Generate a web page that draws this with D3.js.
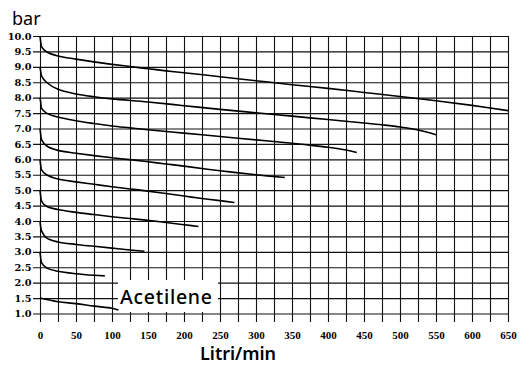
<!DOCTYPE html>
<html>
<head>
<meta charset="utf-8">
<script src="https://cdn.jsdelivr.net/npm/d3@7"></script>
<style>
  body { margin: 0; background: #fff; }
  svg { display: block; }
</style>
</head>
<body>
<svg id="chart" width="520" height="365"></svg>
<script>
// flow (Litri/min) vs outlet pressure (bar), one curve per inlet setting
const curve10 = [[0,10.0],[1,9.8],[2.3,9.65],[9,9.49],[25,9.35],[50,9.25],[75,9.16],[100,9.08],[125,9.01],[150,8.94],[175,8.87],[200,8.81],[250,8.68],[300,8.55],[350,8.42],[400,8.3],[450,8.17],[500,8.04],[550,7.9],[600,7.75],[650,7.58]];
const curve9 = [[0,9.0],[1,8.85],[2.3,8.7],[9,8.5],[25,8.27],[50,8.12],[75,8.03],[100,7.96],[150,7.86],[200,7.74],[250,7.62],[300,7.51],[350,7.4],[400,7.29],[450,7.18],[475,7.12],[500,7.05],[525,6.95],[550,6.8]];
const curve8 = [[0,8.0],[1,7.85],[2.3,7.65],[9,7.5],[25,7.37],[50,7.25],[75,7.16],[100,7.08],[125,7.02],[150,6.96],[200,6.85],[250,6.74],[300,6.63],[350,6.52],[375,6.46],[400,6.39],[425,6.3],[440,6.22]];
const curve7 = [[0,7.0],[1,6.8],[2.3,6.63],[9,6.44],[25,6.29],[50,6.2],[75,6.12],[100,6.05],[125,5.99],[150,5.92],[175,5.85],[200,5.78],[250,5.63],[300,5.5],[340,5.41]];
const curve6 = [[0,6.0],[1,5.8],[2.3,5.66],[9,5.5],[25,5.36],[50,5.27],[75,5.19],[100,5.11],[125,5.04],[150,4.97],[175,4.89],[200,4.81],[225,4.73],[250,4.66],[270,4.6]];
const curve5 = [[0,5.0],[1,4.8],[2.3,4.64],[9,4.48],[25,4.37],[50,4.28],[75,4.21],[100,4.14],[125,4.08],[150,4.02],[175,3.95],[200,3.88],[220,3.82]];
const curve4 = [[0,4.0],[1,3.8],[2.3,3.67],[9,3.45],[25,3.32],[50,3.24],[75,3.18],[100,3.12],[125,3.06],[145,3.02]];
const curve3 = [[0,3.0],[1,2.8],[2.3,2.64],[9,2.48],[25,2.37],[50,2.29],[75,2.24],[90,2.22]];
const acetylene = [[0,1.5],[25,1.38],[50,1.32],[75,1.24],[100,1.17],[109,1.11]];

const flowTicks = d3.range(0, 651, 25);      // grid every 25, label every 50
const pressureTicks = d3.range(1, 10.01, 0.5);

const curves = [curve10, curve9, curve8, curve7, curve6, curve5, curve4, curve3, acetylene];

const svg = d3.select('#chart');

const x = d3.scaleLinear().domain([0, 650]).range([40, 508]);
const y = d3.scaleLinear().domain([1, 10]).range([313.5, 36]);

const gridBottom = 322; // vertical lines run a little past the 1.0 line
const gridLeft = 33;

// vertical grid + flow labels
let xAxis = svg.append('g')
    .attr('transform', `translate(0,${gridBottom})`)
    .call(d3.axisBottom(x)
        .tickValues(flowTicks)
        .tickSize(-(gridBottom - y(10)))
        .tickSizeOuter(0)
        .tickPadding(9)
        .tickFormat(d => d % 50 === 0 ? d : ''));
xAxis.select('.domain').remove();
xAxis.selectAll('line').attr('stroke', '#111').attr('stroke-width', 1.1);
xAxis.selectAll('text')
    .attr('fill', '#000')
    .style('font-family', '"Liberation Serif", serif')
    .style('font-weight', 'bold')
    .style('font-size', '11px');

// horizontal grid + pressure labels
let yAxis = svg.append('g')
    .attr('transform', `translate(${x(650)},0)`)
    .call(d3.axisLeft(y)
        .tickValues(pressureTicks)
        .tickSize(x(650) - gridLeft)
        .tickSizeOuter(0)
        .tickPadding(1.5)
        .tickFormat(d3.format('.1f')));
yAxis.select('.domain').remove();
yAxis.selectAll('line').attr('stroke', '#111').attr('stroke-width', 1.1);
yAxis.selectAll('text')
    .attr('fill', '#000')
    .style('font-family', '"DejaVu Serif", serif')
    .style('font-weight', 'bold')
    .style('font-size', '9.8px');

// label box for the acetylene curve, drawn over the grid
svg.append('rect')
    .attr('x', 118).attr('y', 280)
    .attr('width', 100).attr('height', 32)
    .attr('fill', '#fff');
svg.append('text')
    .attr('x', 120).attr('y', 304)
    .attr('textLength', 92)
    .style('font-family', '"Noto Sans", sans-serif')
    .style('font-size', '19.5px')
    .style('font-weight', '500')
    .text('Acetilene');

let line = d3.line()
    .x(d => x(d[0]))
    .y(d => y(d[1]))
    .curve(d3.curveCatmullRom.alpha(0.5));

svg.append('g')
    .attr('class', 'curves')
    .selectAll('path')
    .data(curves)
    .enter()
    .append('path')
        .attr('d', line)
        .attr('fill', 'none')
        .attr('stroke', '#000')
        .attr('stroke-width', 1.6);

// axis titles
svg.append('text')
    .attr('x', 12).attr('y', 25)
    .style('font-family', '"Noto Sans", sans-serif')
    .style('font-size', '18px')
    .text('bar');
svg.append('text')
    .attr('x', 200).attr('y', 360)
    .attr('textLength', 76)
    .style('font-family', '"Noto Sans", sans-serif')
    .style('font-size', '18px')
    .style('font-weight', '600')
    .text('Litri/min');
</script>
</body>
</html>
